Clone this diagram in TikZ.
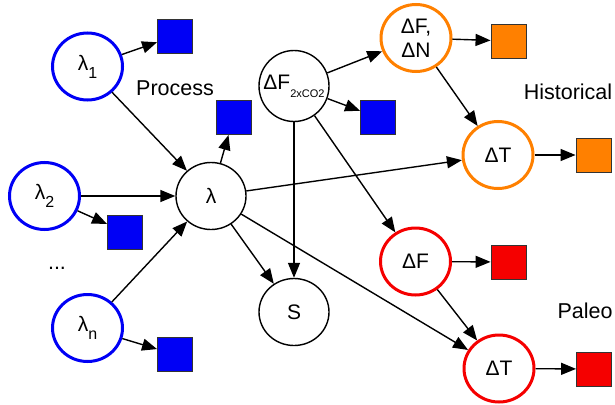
\documentclass[tikz,border=0pt]{standalone}
\usepackage{fontspec}
\setmainfont{Liberation Sans}
\usetikzlibrary{arrows.meta,shapes.geometric}
\newcommand\mysb[2]{\raisebox{-0.38em}{\fontsize{#1}{#1}\selectfont #2}}
\definecolor{myblue}{RGB}{0,0,245}
\definecolor{myorange}{RGB}{255,128,0}
\definecolor{myred}{RGB}{245,0,0}
\tikzset{
  varnode/.style={ellipse,draw=black,line width=1.4pt,minimum width=70pt,minimum height=67pt,inner sep=0pt,font=\fontsize{21}{24}\selectfont},
  bluenode/.style={varnode,draw=myblue,line width=3pt},
  orangenode/.style={varnode,draw=myorange,line width=3pt},
  rednode/.style={varnode,draw=myred,line width=3pt},
  obsbox/.style={rectangle,draw=black!80,line width=0.9pt,minimum width=35pt,minimum height=34pt,inner sep=0pt},
  lbl/.style={font=\fontsize{21.5}{24}\selectfont,inner sep=0pt},
  conn/.style={line width=1.4pt,-{Triangle[length=15pt,width=12pt]}}
}
\begin{document}
\begin{tikzpicture}[x=1pt,y=-1pt]
\useasboundingbox (0,0) rectangle (615,404);
% nodes
\node[bluenode] (l1) at (87.5,66.5) {λ\mysb{16}{1}};
\node[bluenode] (l2) at (44.5,196) {λ\mysb{16}{2}};
\node[bluenode] (ln) at (87.5,328) {λ\mysb{16}{n}};
\node[lbl] (dots) at (57,268) {...};
\node[varnode] (lam) at (211,196) {λ};
\node[varnode,minimum width=70pt,minimum height=71pt] (df2x) at (294,86) {\makebox[0pt][c]{ΔF\mysb{11}{2xCO2}}};
\node[varnode] (S) at (294,312) {S};
\node[orangenode,align=center] (dfn) at (416,38) {ΔF,\\ΔN};
\node[orangenode] (dth) at (498,155) {ΔT};
\node[rednode] (dfp) at (415.5,261.5) {ΔF};
\node[rednode] (dtp) at (499,368.5) {ΔT};
% observation boxes
\node[obsbox,fill=myblue] (b1) at (175,36) {};
\node[obsbox,fill=myblue] (blam) at (233.5,117.5) {};
\node[obsbox,fill=myblue] (b2) at (125,232) {};
\node[obsbox,fill=myblue] (bn) at (175,354.5) {};
\node[obsbox,fill=myblue] (bdf) at (378,117.5) {};
\node[obsbox,fill=myorange] (bo1) at (508.5,41) {};
\node[obsbox,fill=myorange] (bo2) at (593.5,155) {};
\node[obsbox,fill=myred] (br1) at (508.5,262) {};
\node[obsbox,fill=myred] (br2) at (594,369) {};
% labels
\node[lbl] (proc) at (175,88) {Process};
\node[lbl] (hist) at (568,92) {Historical};
\node[lbl] (pal) at (585,311) {Paleo};
% connectors
\draw[conn] (l1) -- (b1);
\draw[conn] (l1) -- (lam);
\draw[conn] (l2) -- (lam);
\draw[conn] (l2) -- (b2);
\draw[conn] (ln) -- (lam);
\draw[conn] (ln) -- (bn);
\draw[conn] (lam) -- (blam);
\draw[conn] (lam) -- (dth);
\draw[conn] (lam) -- (S);
\draw[conn] (lam) -- (dtp);
\draw[conn] (df2x) -- (dfn);
\draw[conn] (df2x) -- (bdf);
\draw[conn] (df2x) -- (S);
\draw[conn] (df2x) -- (dfp);
\draw[conn] (dfn) -- (bo1);
\draw[conn] (dfn) -- (dth);
\draw[conn] (dth) -- (bo2);
\draw[conn] (dfp) -- (br1);
\draw[conn] (dfp) -- (dtp);
\draw[conn] (dtp) -- (br2);
\end{tikzpicture}
\end{document}
